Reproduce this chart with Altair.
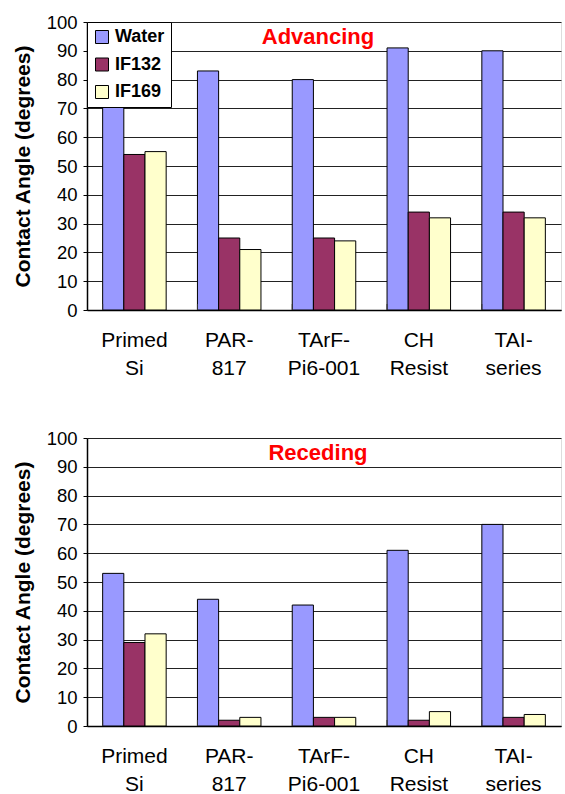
import altair as alt
import pandas as pd

categories = ["Primed\nSi", "PAR-\n817", "TArF-\nPi6-001", "CH\nResist", "TAI-\nseries"]
series = ["Water", "IF132", "IF169"]
colors = ["#9999FF", "#993366", "#FFFFCC"]

adv_water = [75, 83, 80, 91, 90]
adv_if132 = [54, 25, 25, 34, 34]
adv_if169 = [55, 21, 24, 32, 32]

rec_water = [53, 44, 42, 61, 70]
rec_if132 = [29, 2, 3, 2, 3]
rec_if169 = [32, 3, 3, 5, 4]

FONT = "Liberation Sans"
W, H = 474, 288


def make_df(vals):
    rows = []
    for s, v in zip(series, vals):
        for c, x in zip(categories, v):
            rows.append({"cat": c, "series": s, "value": x})
    return pd.DataFrame(rows)


def panel(vals, label):
    df = make_df(vals)
    xscale = alt.Scale(domain=categories, paddingInner=0.33, paddingOuter=0.165)
    bars = alt.Chart(df).mark_bar(stroke="black", strokeWidth=1).encode(
        x=alt.X("cat:N", sort=categories, scale=xscale,
                axis=alt.Axis(title=None, labelAngle=0, ticks=False,
                              labelExpr="split(datum.label, '\\n')",
                              labelFont=FONT, labelFontSize=21, labelColor="black",
                              labelLineHeight=28, labelPadding=19,
                              domainColor="black", domainWidth=1.5)),
        xOffset=alt.XOffset("series:N", sort=series, scale=alt.Scale(paddingInner=0, paddingOuter=0)),
        y=alt.Y("value:Q", scale=alt.Scale(domain=[0, 100]),
                axis=alt.Axis(title="Contact Angle (degrees)", values=list(range(0, 101, 10)),
                              titleFont=FONT, titleFontSize=21, titleFontWeight="bold",
                              titleColor="black", titlePadding=13,
                              labelFont=FONT, labelFontSize=18.5, labelColor="black",
                              labelPadding=6, tickSize=4, tickColor="black",
                              gridColor="#222222", gridWidth=1,
                              domainColor="black", domainWidth=1.5)),
        color=alt.Color("series:N", sort=series,
                        scale=alt.Scale(domain=series, range=colors),
                        legend=alt.Legend(orient="top-left", offset=0, title=None,
                                          fillColor="white", strokeColor="black",
                                          padding=6, symbolType="square", symbolSize=169,
                                          symbolStrokeColor="black", symbolStrokeWidth=1,
                                          labelFont=FONT, labelFontSize=18,
                                          labelFontWeight="bold", labelColor="black",
                                          labelOffset=4, rowPadding=9.5)),
    )
    ticks = alt.Chart(pd.DataFrame({"cat": categories})).mark_rule(color="#333333", strokeWidth=1).encode(
        x=alt.X("cat:N", sort=categories, scale=xscale, bandPosition=0),
        y=alt.value(H - 6),
        y2=alt.value(H),
    )
    title = alt.Chart(pd.DataFrame({"t": [label]})).mark_text(
        font=FONT, fontSize=22, fontWeight="bold", color="red", align="center", baseline="middle"
    ).encode(text="t:N", x=alt.value(231), y=alt.value(15))
    return alt.layer(bars, ticks, title).properties(width=W, height=H)


top = panel([adv_water, adv_if132, adv_if169], "Advancing")
bottom = panel([rec_water, rec_if132, rec_if169], "Receding")

chart = alt.vconcat(top, bottom, spacing=49).properties(
    padding={"top": 12, "left": 11, "right": 0, "bottom": 0}
).configure_view(fill="#CCFFFF", stroke="#808080", strokeWidth=1).configure(
    background="white"
)

chart.save("out.html", embed_options={"renderer": "svg", "actions": False})
